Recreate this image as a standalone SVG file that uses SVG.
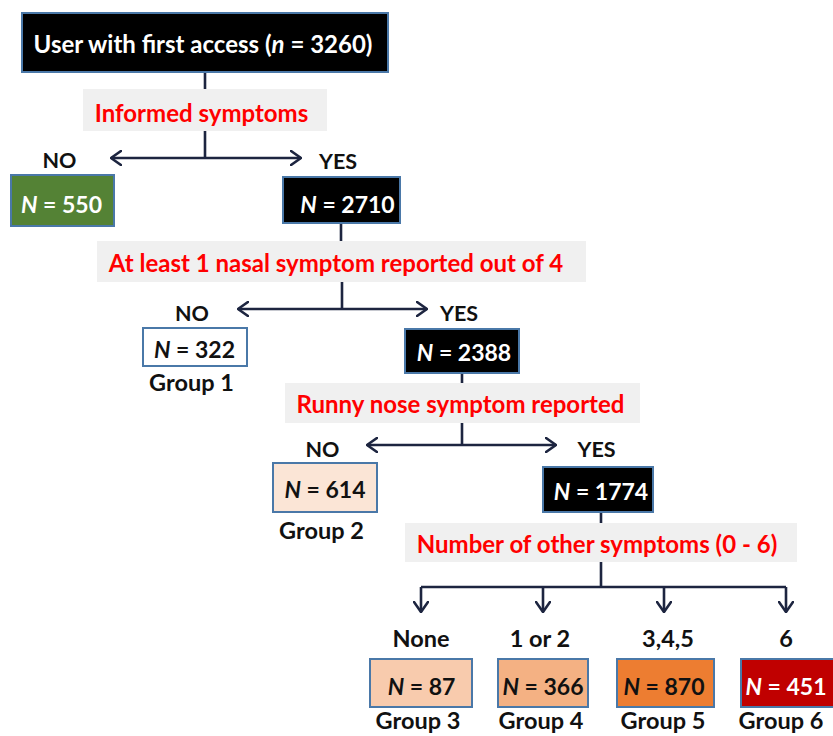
<svg xmlns="http://www.w3.org/2000/svg" width="833" height="736" viewBox="0 0 833 736">
<defs>
<marker id="arr" viewBox="0 0 12 16" refX="11" refY="8" markerWidth="12" markerHeight="16" markerUnits="userSpaceOnUse" orient="auto-start-reverse">
<path d="M1,1 L11,8 L1,15" fill="none" stroke="#1d2540" stroke-width="2.6" stroke-linecap="round" stroke-linejoin="round"/>
</marker>
</defs>
<style>
text{font-family:Lato,"Liberation Sans",sans-serif;font-weight:bold;text-anchor:middle}
.box{stroke:#4a78a8;stroke-width:2}
.band{fill:#f0f0f0}
.q{fill:#ff0000;font-size:24px}
.lab{fill:#111;font-size:21.5px}
.grp{fill:#111;font-size:23.5px}
.n{font-size:23px}
.w{fill:#fff}
.k{fill:#111}
.i{font-style:italic}
.c{fill:none;stroke:#1d2540;stroke-width:2.6}
</style>
<rect width="833" height="736" fill="#fff"/>
<g id="connectors">
<path class="c" d="M205 72V89M205 131V158"/>
<path class="c" d="M111 158H301" marker-start="url(#arr)" marker-end="url(#arr)"/>
<path class="c" d="M341 223V241M342 282V309"/>
<path class="c" d="M238 309H427" marker-start="url(#arr)" marker-end="url(#arr)"/>
<path class="c" d="M462 373V383M462 423V445"/>
<path class="c" d="M367 445H556" marker-start="url(#arr)" marker-end="url(#arr)"/>
<path class="c" d="M601 512V523M601 562V587M421 587H786"/>
<path class="c" d="M421 587V612" marker-end="url(#arr)"/>
<path class="c" d="M543 587V612" marker-end="url(#arr)"/>
<path class="c" d="M664 587V612" marker-end="url(#arr)"/>
<path class="c" d="M786 587V612" marker-end="url(#arr)"/>
</g>
<g id="start">
<rect class="box" x="22" y="13" width="366" height="59" fill="#000"/>
<text class="w" x="203" y="53" font-size="24">User with first access (<tspan class="i">n</tspan> = 3260)</text>
</g>
<g id="q1">
<rect class="band" x="83" y="89" width="244" height="42"/>
<text class="q" x="201.5" y="122">Informed symptoms</text>
</g>
<g id="no1">
<text class="lab" x="59.5" y="168">NO</text>
<rect class="box" x="11" y="175" width="103" height="51" fill="#548235"/>
<text class="n w" x="61.5" y="213"><tspan class="i">N</tspan> = 550</text>
</g>
<g id="yes1">
<text class="lab" x="338" y="169">YES</text>
<rect class="box" x="283" y="177" width="117" height="46" fill="#000"/>
<text class="n w" x="347.5" y="213"><tspan class="i">N</tspan> = 2710</text>
</g>
<g id="q2">
<rect class="band" x="97" y="241" width="489" height="41"/>
<text class="q" x="336" y="272">At least 1 nasal symptom reported out of 4</text>
</g>
<g id="group1">
<text class="lab" x="192" y="321">NO</text>
<rect class="box" x="143" y="328" width="104" height="38" fill="#fff"/>
<text class="n k" x="194.5" y="358"><tspan class="i">N</tspan> = 322</text>
<text class="grp" x="191.5" y="391">Group 1</text>
</g>
<g id="yes2">
<text class="lab" x="459" y="321">YES</text>
<rect class="box" x="405" y="329" width="114" height="44" fill="#000"/>
<text class="n w" x="464" y="361"><tspan class="i">N</tspan> = 2388</text>
</g>
<g id="q3">
<rect class="band" x="285" y="383" width="355" height="40"/>
<text class="q" x="460.5" y="413">Runny nose symptom reported</text>
</g>
<g id="group2">
<text class="lab" x="322.5" y="457">NO</text>
<rect class="box" x="273" y="463" width="104" height="49" fill="#fbe5d6"/>
<text class="n k" x="325" y="498"><tspan class="i">N</tspan> = 614</text>
<text class="grp" x="321.5" y="539">Group 2</text>
</g>
<g id="yes3">
<text class="lab" x="596.5" y="457">YES</text>
<rect class="box" x="543" y="467" width="110" height="45" fill="#000"/>
<text class="n w" x="601" y="500"><tspan class="i">N</tspan> = 1774</text>
</g>
<g id="q4">
<rect class="band" x="405" y="523" width="392" height="39"/>
<text class="q" x="597" y="553">Number of other symptoms (0 - 6)</text>
</g>
<g id="group3">
<text class="grp" x="421" y="647">None</text>
<rect class="box" x="370" y="659" width="102" height="48" fill="#f8cbad"/>
<text class="n k" x="421.5" y="695"><tspan class="i">N</tspan> = 87</text>
<text class="grp" x="418" y="729">Group 3</text>
</g>
<g id="group4">
<text class="grp" x="540" y="647">1 or 2</text>
<rect class="box" x="498" y="659" width="90" height="48" fill="#f4b183"/>
<text class="n k" x="543" y="695"><tspan class="i">N</tspan> = 366</text>
<text class="grp" x="541" y="729">Group 4</text>
</g>
<g id="group5">
<text class="grp" x="668" y="647">3,4,5</text>
<rect class="box" x="617" y="659" width="97" height="48" fill="#ed7d31"/>
<text class="n k" x="664" y="695"><tspan class="i">N</tspan> = 870</text>
<text class="grp" x="663" y="729">Group 5</text>
</g>
<g id="group6">
<text class="grp" x="786" y="647">6</text>
<rect class="box" x="741" y="659" width="95" height="48" fill="#c00000"/>
<text class="n w" x="786" y="695"><tspan class="i">N</tspan> = 451</text>
<text class="grp" x="781" y="729">Group 6</text>
</g>
</svg>
